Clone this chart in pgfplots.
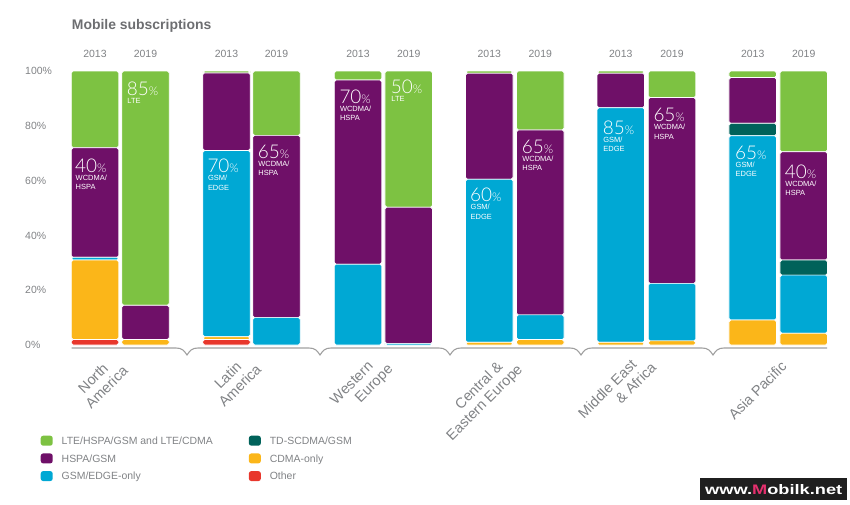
\documentclass[border=0pt]{standalone}
\usepackage{fontspec}
\setmainfont{Liberation Sans}
\IfFontExistsTF{Lato Light}{\newfontfamily\lightfont{Lato Light}}{\newfontfamily\lightfont{Liberation Sans}}
\usepackage{graphicx}
\usepackage{pgfplots}
\pgfplotsset{compat=1.18}
\usepackage{pgfplotstable}

\definecolor{clte}{HTML}{7DC242}
\definecolor{chspa}{HTML}{6F1068}
\definecolor{cgsm}{HTML}{00A8D4}
\definecolor{ctd}{HTML}{00625A}
\definecolor{ccdma}{HTML}{FBB619}
\definecolor{coth}{HTML}{E8372C}
\definecolor{txt}{HTML}{6D6E71}
\definecolor{lbl}{HTML}{808285}
\definecolor{mag}{HTML}{E5306E}

\pgfplotstableread{
pos   other cdma gsm  td  hspa lte
95    2     29   1    0   40   28
145.5 0     2    0    0   12.5 85.5
226.5 2     1    68   0   28.3 0.7
276.5 0     0    10   0   66.5 23.5
358   0     0    29.5 0   67.2 3.3
408.7 0     0    0.5  0   49.8 49.7
489.3 0     1    59.5 0   38.7 0.8
540.3 0     2    9    0   67.5 21.5
620.8 0     1    85.6 0   12.6 0.8
672   0     1.5  21   0   67.8 9.7
752.7 0     9.1  67.3 4.5 16.7 2.4
803.7 0     4.3  21.2 5.5 39.5 29.5
}\datatable

% x, baseline y, number, sub line 1, sub line 2
\newcommand{\ann}[5]{%
  \node[anchor=base west, inner sep=0pt, text=white] at (#1,#2)
    {\lightfont\fontsize{19}{19}\selectfont #3\fontsize{12}{12}\selectfont\%};
  \node[anchor=base west, inner sep=0pt, text=white,
        font=\fontsize{7.5}{9.5}\selectfont] at (#1+0.5,#2+8) {#4};
  \node[anchor=base west, inner sep=0pt, text=white,
        font=\fontsize{7.5}{9.5}\selectfont] at (#1+0.5,#2+17.5) {#5};
}

\begin{document}
\begin{tikzpicture}
\useasboundingbox (0,0) rectangle (850bp,-505bp);
\begin{axis}[
  at={(0bp,-345bp)}, anchor=south west, scale only axis,
  width=850bp, height=274bp,
  xmin=0, xmax=850, ymin=0, ymax=100, clip=false,
  ybar stacked, bar width=47.5,
  axis line style={draw=none}, tick style={draw=none},
  xtick=\empty,
  ytick={0,20,40,60,80,100},
  yticklabel={\pgfmathprintnumber{\tick}\%},
  yticklabel style={anchor=west, inner sep=0pt, xshift=25bp,
     font=\fontsize{10.5}{12}\selectfont, text=lbl,
     /pgf/number format/assume math mode=true},
  every axis plot/.append style={draw=white, line width=0.7bp, rounded corners=1.8bp},
  legend columns=2,
  legend cell align=left,
  legend style={at={(0.0479,-0.331)}, anchor=north west, draw=none, fill=none,
     inner sep=0pt, outer sep=0pt, row sep=7.7bp,
     font=\fontsize{10.5}{12}\selectfont, text=lbl,
     nodes={inner sep=0pt, text height=7.6bp, text depth=0bp},
     /tikz/every odd column/.append style={column sep=9bp},
     /tikz/every even column/.append style={column sep=36bp}},
  mylegend/.style={legend image code/.code={\fill[rounded corners=2.5bp] (0bp,-5bp) rectangle (12bp,5bp);}},
]
\addplot[fill=coth,  forget plot] table[x=pos,y=other] {\datatable};
\addplot[fill=ccdma, forget plot] table[x=pos,y=cdma]  {\datatable};
\addplot[fill=cgsm,  forget plot] table[x=pos,y=gsm]   {\datatable};
\addplot[fill=ctd,   forget plot] table[x=pos,y=td]    {\datatable};
\addplot[fill=chspa, forget plot] table[x=pos,y=hspa]  {\datatable};
\addplot[fill=clte,  forget plot] table[x=pos,y=lte]   {\datatable};
\addlegendimage{fill=clte, draw=none, mylegend}\addlegendentry{LTE/HSPA/GSM and LTE/CDMA}
\addlegendimage{fill=ctd, draw=none, mylegend}\addlegendentry{TD-SCDMA/GSM}
\addlegendimage{fill=chspa, draw=none, mylegend}\addlegendentry{HSPA/GSM}
\addlegendimage{fill=ccdma, draw=none, mylegend}\addlegendentry{CDMA-only}
\addlegendimage{fill=cgsm, draw=none, mylegend}\addlegendentry{GSM/EDGE-only}
\addlegendimage{fill=coth, draw=none, mylegend}\addlegendentry{Other}
\end{axis}
\begin{scope}[x=1bp, y=-1bp]
  % title
  \node[anchor=base west, inner sep=0pt, text=txt, font=\fontsize{14}{16}\selectfont\bfseries]
     at (71.7,29.3) {Mobile subscriptions};
  % years
  \foreach \xa/\xb in {95/145.5, 226.5/276.5, 358/408.7, 489.3/540.3, 620.8/672, 752.7/803.7}{
    \node[anchor=base, inner sep=0pt, text=lbl, font=\fontsize{10.5}{12}\selectfont] at (\xa,57.3) {2013};
    \node[anchor=base, inner sep=0pt, text=lbl, font=\fontsize{10.5}{12}\selectfont] at (\xb,57.3) {2019};
  }
  % baseline with notches
  \draw[color=gray!75, line width=1.1bp] (71.7,348)
    foreach \n in {187,320,450,581,713}{
      -- (\n-11,348) .. controls (\n-5,348) and (\n-3,350.5) .. (\n,355)
      .. controls (\n+3,350.5) and (\n+5,348) .. (\n+11,348)}
    -- (827,348);
  % category labels
  \tikzset{cat/.style={rotate=45, anchor=north east, align=right, inner sep=0pt,
     text=lbl, font=\fontsize{14.5}{16}\selectfont}}
  \node[cat] at (110.2,353.2) {North\rule{12bp}{0pt}\\America};
  \node[cat] at (243.5,351.5) {Latin\rule{12bp}{0pt}\\America};
  \node[cat] at (375.2,351.5) {Western\rule{12bp}{0pt}\\Europe};
  \node[cat] at (504.5,351.5) {Central \&\rule{12bp}{0pt}\\Eastern Europe};
  \node[cat] at (638.5,349.8) {Middle East\rule{12bp}{0pt}\\\& Africa};
  \node[cat] at (780,360) {Asia Pacific};
  % annotations
  \ann{75}{172}{40}{WCDMA/}{HSPA}
  \ann{126.7}{95}{85}{LTE}{}
  \ann{207.3}{172.7}{70}{GSM/}{EDGE}
  \ann{257.7}{158.3}{65}{WCDMA/}{HSPA}
  \ann{339.3}{103.3}{70}{WCDMA/}{HSPA}
  \ann{390.7}{93.3}{50}{LTE}{}
  \ann{470}{201.7}{60}{GSM/}{EDGE}
  \ann{521.7}{153.3}{65}{WCDMA/}{HSPA}
  \ann{602.7}{134}{85}{GSM/}{EDGE}
  \ann{653.3}{121.7}{65}{WCDMA/}{HSPA}
  \ann{735}{159}{65}{GSM/}{EDGE}
  \ann{784.7}{178.3}{40}{WCDMA/}{HSPA}
  % watermark
  \fill[black!88] (700,478) rectangle (846.7,500);
  \node[anchor=base west, inner sep=0pt, text=white] at (705,494.3)
    {\resizebox{137bp}{10bp}{\bfseries www.\textcolor{mag}{M}obilk.net}};
\end{scope}
\end{tikzpicture}
\end{document}
